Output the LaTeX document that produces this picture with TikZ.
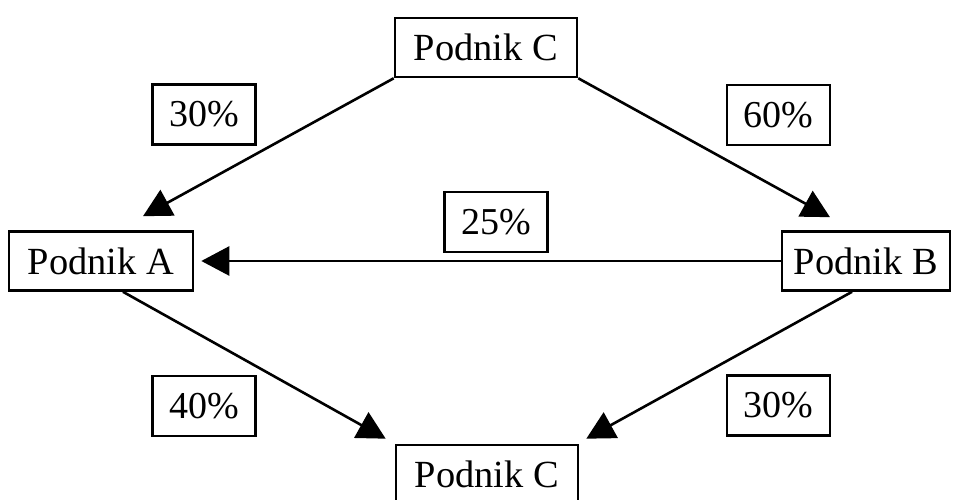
\documentclass[tikz,border=0pt]{standalone}
\usepackage{fontspec}
\setmainfont{Liberation Serif}
\usetikzlibrary{arrows.meta,calc}
\begin{document}
\begin{tikzpicture}[x=1pt,y=1pt,
  firm/.style={draw, line width=2.6pt, inner sep=0pt, minimum height=59pt,
    font=\fontsize{38.4}{46}\selectfont},
  share/.style={draw, line width=2.4pt, inner sep=0pt, minimum width=103pt,
    minimum height=60pt, font=\fontsize{38}{46}\selectfont},
  flow/.style={line width=2.6pt, -{Triangle[length=28pt,width=29pt]}}]
\fill[white] (0,0) rectangle (953,500);
\useasboundingbox (0,0) rectangle (953,500);
% companies
\node[firm, minimum width=182pt] (Ct) at (486,452.5) {Podnik C};
\node[firm, minimum width=184pt] (A) at (101,239) {Podnik A};
\node[firm, minimum width=168pt] (B) at (866,239) {Podnik B};
\node[firm, minimum width=182pt] (Cb) at (487,25.5) {Podnik C};
% ownership shares
\node[share] (p30a) at (204,385.5) {30\%};
\node[share] (p60) at (778.5,385) {60\%};
\node[share] (p25) at (496,278) {25\%};
\node[share] (p40) at (204,94) {40\%};
\node[share] (p30b) at (778.5,94.5) {30\%};
% ownership links
\draw[flow] (Ct.south west) -- ($(A.north)+(42,14)$);
\draw[flow] (Ct.south east) -- ($(B.north)+(-36,13)$);
\draw[flow] (B.west) -- ($(A.east)+(7,0)$);
\draw[flow] ($(A.south)+(22,0)$) -- ($(Cb.north west)+(-9,5)$);
\draw[flow] ($(B.south)+(-14,0)$) -- ($(Cb.north east)+(7,5)$);
\end{tikzpicture}
\end{document}
